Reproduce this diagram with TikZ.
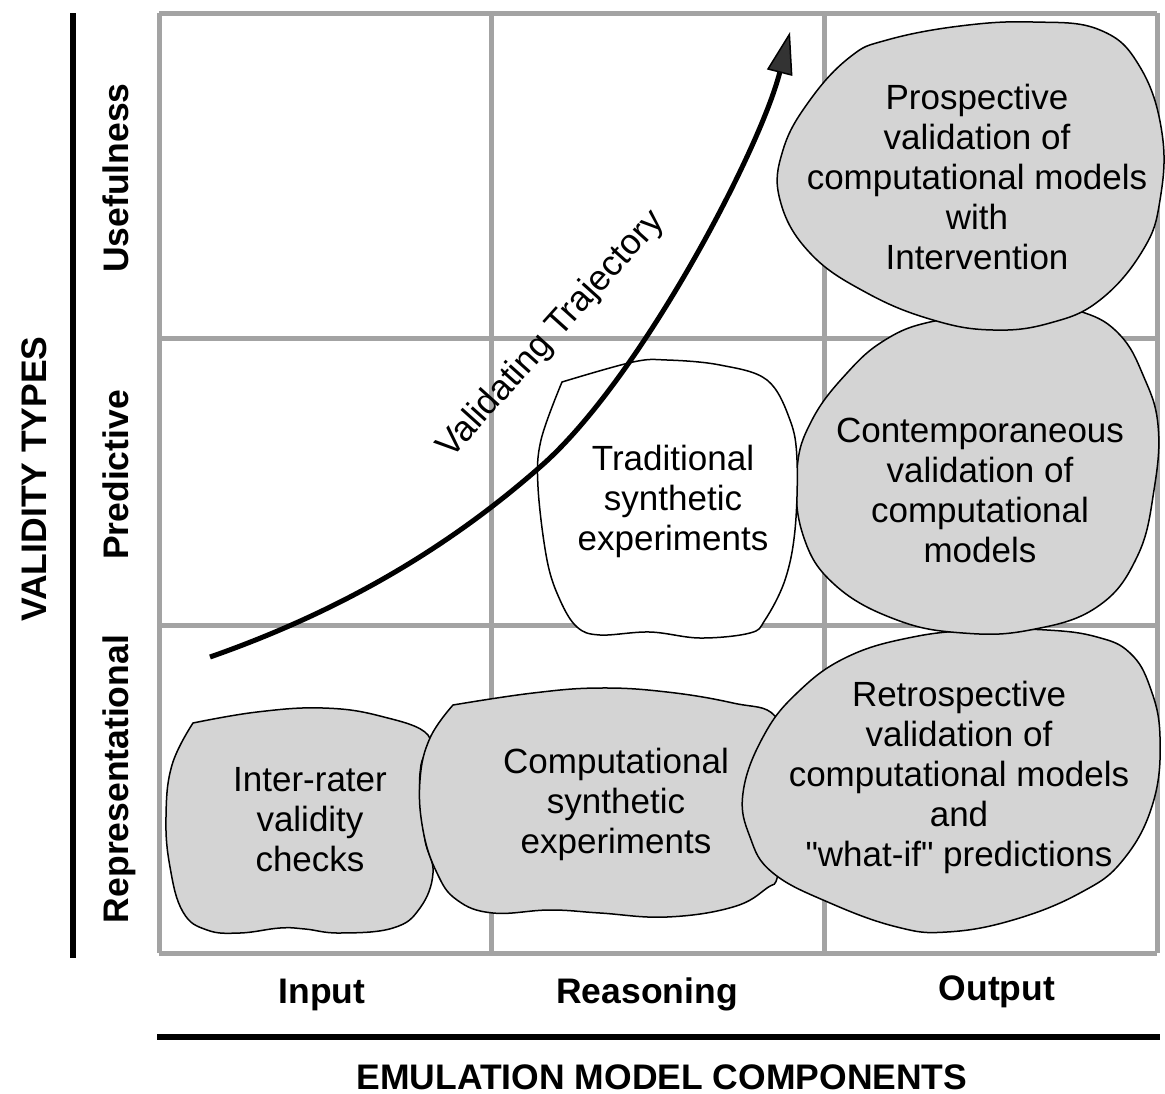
\documentclass[tikz,border=0pt]{standalone}
\usepackage{fontspec}
\setmainfont{Liberation Sans}
\newfontfamily\plainquotes{Liberation Sans}
\usetikzlibrary{arrows.meta}
\newcommand{\dq}{{\plainquotes\char34}}
\begin{document}
\begin{tikzpicture}[x=1pt,y=-1pt,
  gridline/.style={draw=black!36,line width=5pt},
  axisline/.style={draw=black,line width=5.5pt},
  blob/.style={draw=black,line width=1.5pt,fill=black!17},
  whiteblob/.style={draw=black,line width=1.5pt,fill=white},
  blobtext/.style={align=center,inner sep=0pt,font=\fontsize{35}{40}\selectfont},
  rowlabel/.style={rotate=90,anchor=base,inner sep=0pt,font=\fontsize{35.5}{40}\selectfont\bfseries},
  collabel/.style={anchor=base,inner sep=0pt,font=\fontsize{35.5}{40}\selectfont\bfseries},
  traj/.style={draw=black,line width=5pt,
    -{Triangle[length=42pt,width=26pt,line width=1.5pt,fill=black!80]}}
]
\useasboundingbox (0,0) rectangle (1165,1093);

% grid of validity types by model components
\foreach \gx in {159,491,824,1157}
  \draw[gridline] (\gx,13) -- (\gx,953);
\foreach \gy in {13,338,625,953}
  \draw[gridline] (159,\gy) -- (1157,\gy);

% axes
\draw[axisline] (73,13) -- (73,958);
\draw[axisline] (157,1037) -- (1160,1037);

% validation regions
\path[blob] plot[smooth,tension=0.7] coordinates {
  (193,723) (257,712) (323,708) (380,716) (428,735) (421,765) (420,795)
  (425,840) (433,873) (420,908) (393,928) (340,933) (305,929) (280,928)
  (240,933) (207,930) (183,912) (170,867) (166,817) (172,765) (193,723)} -- cycle;
\path[blob] plot[smooth,tension=0.7] coordinates {
  (453,705) (533,693) (600,688) (667,692) (733,703) (775,716) (785,760)
  (787,820) (778,875) (767,888) (733,907) (667,917) (600,913) (550,910)
  (493,913) (457,900) (437,873) (423,830) (420,780) (430,738) (453,705)} -- cycle;
\path[blob] plot[smooth cycle,tension=0.7] coordinates {
  (743,793) (763,737) (797,693) (847,657) (913,637) (980,630) (1047,630)
  (1097,637) (1130,653) (1150,687) (1160,737) (1153,803) (1123,860)
  (1080,893) (1013,920) (947,932) (897,927) (830,903) (773,873) (750,837)};
\path[blob] plot[smooth cycle,tension=0.7] coordinates {
  (847,373) (885,340) (930,322) (990,316) (1045,310) (1085,313) (1120,335)
  (1143,375) (1158,425) (1154,490) (1137,557) (1097,607) (1030,630)
  (963,633) (897,620) (835,585) (803,535) (797,470) (812,420)};
\path[blob] plot[smooth cycle,tension=0.7] coordinates {
  (850,57) (887,40) (960,26) (1033,22) (1100,30) (1140,67) (1162,133)
  (1160,200) (1143,250) (1100,300) (1050,323) (993,330) (933,320)
  (867,293) (810,253) (780,200) (783,150) (810,100)};
\path[whiteblob] plot[smooth,tension=0.6] coordinates {
  (562,382) (633,362) (667,360) (720,365) (767,380) (790,420) (797,460)
  (795,530) (785,580) (765,620) (750,633) (700,638) (650,632) (600,635)
  (577,627) (560,600) (547,560) (538,487) (541,440) (562,382)} -- cycle;

% trajectory
\coordinate (ts) at (210,657);
\coordinate (te) at (790,32);
\draw[traj] (ts) .. controls (330,615) and (440,555) .. (540,467)
  .. controls (640,380) and (760,150) .. (te);
\node[rotate=48,anchor=base,inner sep=0pt,font=\fontsize{35.5}{40}\selectfont]
  (trajlabel) at (558,341) {Validating Trajectory};

% region texts
\node[blobtext] (inter) at (310,820) {Inter-rater\\validity\\checks};
\node[blobtext] (compsyn) at (616,804) {Computational\\synthetic\\experiments};
\node[blobtext] (tradsyn) at (673,501) {Traditional\\synthetic\\experiments};
\node[blobtext] (contemp) at (980,490) {Contemporaneous\\validation of\\computational\\models};
\node[blobtext] (retro) at (959,777) {Retrospective\\validation of\\computational models\\and\\\dq what-if\dq{} predictions};
\node[blobtext] (prosp) at (977,177) {Prospective\\validation of\\computational models\\with\\Intervention};

% axis labels
\node[rowlabel] (usef) at (128,178) {Usefulness};
\node[rowlabel] (pred) at (128,475) {Predictive};
\node[rowlabel] (repr) at (128,779) {Representational};
\node[rowlabel] (vtypes) at (46,479) {VALIDITY TYPES};
\node[collabel] (inp) at (322,1003) {Input};
\node[collabel] (reas) at (647,1003) {Reasoning};
\node[collabel] (outp) at (997,1000) {Output};
\node[collabel] (emc) at (662,1089) {EMULATION MODEL COMPONENTS};
\end{tikzpicture}
\end{document}
